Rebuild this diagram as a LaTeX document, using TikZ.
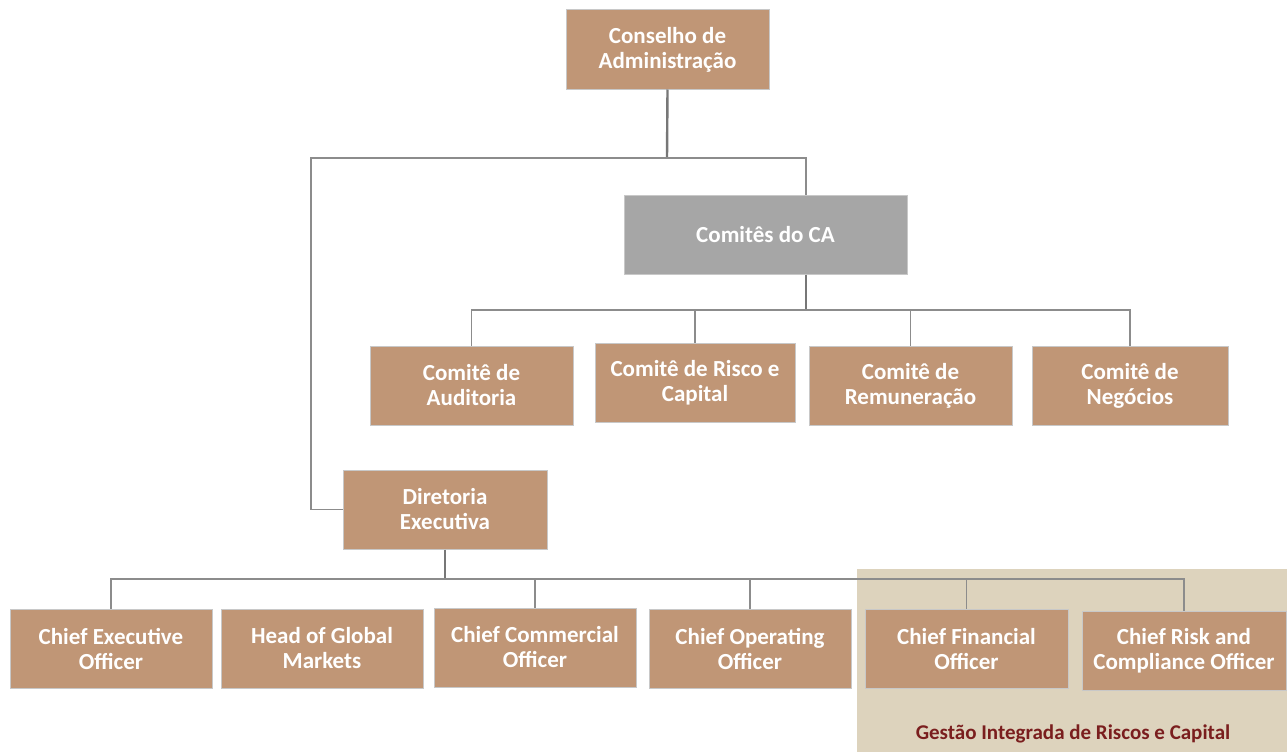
\documentclass[tikz,border=0pt]{standalone}
\usepackage{fontspec}
\setmainfont{Carlito}
\definecolor{boxtan}{HTML}{C09676}
\definecolor{boxgray}{HTML}{A6A6A6}
\definecolor{boxline}{HTML}{C8C8C8}
\definecolor{wire}{HTML}{8C8C8C}
\definecolor{zonetan}{HTML}{DDD3BD}
\definecolor{zonetext}{HTML}{7A1E1E}
\tikzset{
  unit/.style={draw=boxline, line width=1pt, fill=boxtan, text=white,
    font=\fontsize{23}{25}\selectfont\bfseries, align=center,
    inner sep=0pt, minimum width=203pt, minimum height=79pt},
  wire/.style={draw=wire, line width=1.3pt},
  trunk/.style={draw=wire!85!black, line width=2.4pt}
}
\begin{document}
\begin{tikzpicture}[x=1pt,y=-1pt]
  \useasboundingbox (0,0) rectangle (1287,752);

  % Zone of integrated risk management
  \fill[zonetan] (857,569) rectangle (1287,752);
  \node[text=zonetext, font=\fontsize{21}{23}\selectfont\bfseries] (zone) at (1073,734)
    {Gestão Integrada de Riscos e Capital};

  % Board and committees
  \node[unit] (ca) at (667.5,49.5) {Conselho de\\Administração};
  \node[unit, fill=boxgray, minimum width=283pt] (comites) at (765.5,234.5) {Comitês do CA};

  \node[unit] (aud) at (471.5,385.5) {Comitê de\\Auditoria};
  \node[unit, minimum width=200pt] (risco) at (695,383) {Comitê de Risco e\\Capital};
  \node[unit] (rem) at (910.5,385.5) {Comitê de\\Remuneração};
  \node[unit, minimum width=196pt] (neg) at (1130,385.5) {Comitê de\\Negócios};

  % Executive board
  \node[unit, minimum width=204pt] (dir) at (445,509.5) {Diretoria\\Executiva};

  \node[unit, minimum width=202pt] (ceo) at (111,648.5) {Chief Executive\\Officer};
  \node[unit, minimum width=202pt] (hgm) at (322,648.5) {Head of Global\\Markets};
  \node[unit, minimum width=202pt] (cco) at (535,647.5) {Chief Commercial\\Officer};
  \node[unit, minimum width=202pt] (coo) at (750,648.5) {Chief Operating\\Officer};
  \node[unit] (cfo) at (966.5,649) {Chief Financial\\Officer};
  \node[unit, minimum width=204pt] (crco) at (1184,651) {Chief Risk and\\Compliance Officer};

  % Connectors
  \coordinate (jca) at (667,158);
  \coordinate (jleft) at (311,158);
  \coordinate (jcom) at (806,310);
  \coordinate (jdir) at (445,579);

  \draw[trunk] (ca.south) -- (jca);
  \draw[wire] (jca) -| (comites.north -| jcom);
  \draw[wire] (jca) -- (jleft) |- (dir.west);

  \draw[trunk] (comites.south -| jcom) -- (jcom);
  \foreach \n in {aud,risco,rem,neg}
    \draw[wire] (jcom) -| (\n.north);

  \draw[trunk] (dir.south) -- (jdir);
  \foreach \n in {ceo,cco,coo,cfo,crco}
    \draw[wire] (jdir) -| (\n.north);

\end{tikzpicture}
\end{document}
